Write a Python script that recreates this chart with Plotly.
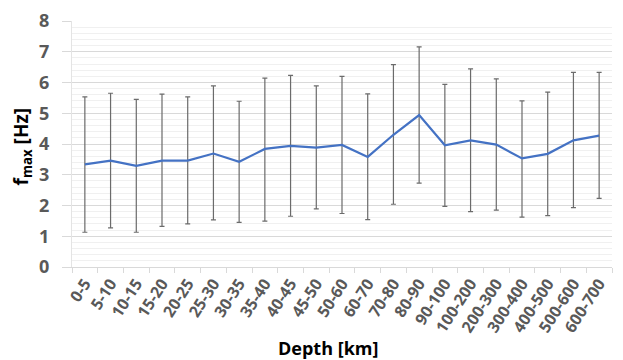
import plotly.graph_objects as go

depth_bins = ["0-5", "5-10", "10-15", "15-20", "20-25", "25-30", "30-35", "35-40",
              "40-45", "45-50", "50-60", "60-70", "70-80", "80-90", "90-100",
              "100-200", "200-300", "300-400", "400-500", "500-600", "600-700"]
fmax_mean = [3.34, 3.46, 3.29, 3.46, 3.46, 3.69, 3.42, 3.84, 3.94, 3.88,
             3.97, 3.58, 4.30, 4.94, 3.96, 4.12, 3.98, 3.53, 3.68, 4.12, 4.27]
fmax_upper = [5.53, 5.65, 5.45, 5.62, 5.53, 5.89, 5.39, 6.14, 6.23, 5.89,
              6.20, 5.63, 6.58, 7.16, 5.94, 6.44, 6.12, 5.40, 5.69, 6.33, 6.33]
fmax_lower = [1.13, 1.27, 1.13, 1.32, 1.40, 1.53, 1.45, 1.49, 1.65, 1.89,
              1.74, 1.54, 2.04, 2.73, 1.97, 1.80, 1.85, 1.62, 1.67, 1.93, 2.23]
y_ticks = [0, 1, 2, 3, 4, 5, 6, 7, 8]
x_title = "Depth [km]"
y_title = "f<sub>max</sub> [Hz]"

err_plus = [u - m for u, m in zip(fmax_upper, fmax_mean)]
err_minus = [m - l for m, l in zip(fmax_mean, fmax_lower)]

FONT = "Open Sans"

fig = go.Figure()
fig.add_trace(go.Scatter(
    x=depth_bins, y=fmax_mean, mode="lines",
    line=dict(color="#4472C4", width=2.2),
    error_y=dict(type="data", symmetric=False, array=err_plus, arrayminus=err_minus,
                 color="#6b6b6b", thickness=1.2, width=2.5),
    showlegend=False,
))

# page body has an 8px default margin, so the figure is shifted by 8px
fig.update_layout(
    width=623, height=360,
    margin=dict(l=64, r=19, t=13, b=101),
    paper_bgcolor="white", plot_bgcolor="white",
    font=dict(family=FONT),
    xaxis=dict(
        type="category", range=[-0.5, 20.5], automargin=False,
        tickangle=-57, tickfont=dict(family=FONT, size=16, color="#595959", weight="bold"),
        ticks="outside", ticklen=5, tickcolor="#d9d9d9", tickson="boundaries",
        showline=True, linecolor="#d9d9d9", linewidth=1,
        showgrid=False,
    ),
    yaxis=dict(
        range=[0, 8], tickvals=y_ticks, automargin=False,
        tickfont=dict(family=FONT, size=18, color="#595959", weight="bold"),
        ticklabeloverflow="allow",
        showgrid=True, gridcolor="#d9d9d9", gridwidth=1,
        minor=dict(dtick=0.2, showgrid=True, gridcolor="#f0f0f0", gridwidth=1),
        zeroline=False, showline=True, linecolor="#e4e4e4", linewidth=1,
        ticks="outside", ticklen=9, tickcolor="#d9d9d9",
        ticklabelstandoff=9,
    ),
    annotations=[
        dict(text=x_title, xref="paper", yref="paper", x=0.474, y=-0.33,
             xanchor="center", yanchor="middle", showarrow=False,
             font=dict(family=FONT, size=18, color="black", weight="bold")),
        dict(text=y_title, xref="paper", yref="paper", x=-0.0926, y=0.49,
             xanchor="center", yanchor="middle", showarrow=False, textangle=-90,
             font=dict(family=FONT, size=19, color="black", weight="bold")),
    ],
)

fig.write_html("out.html")
